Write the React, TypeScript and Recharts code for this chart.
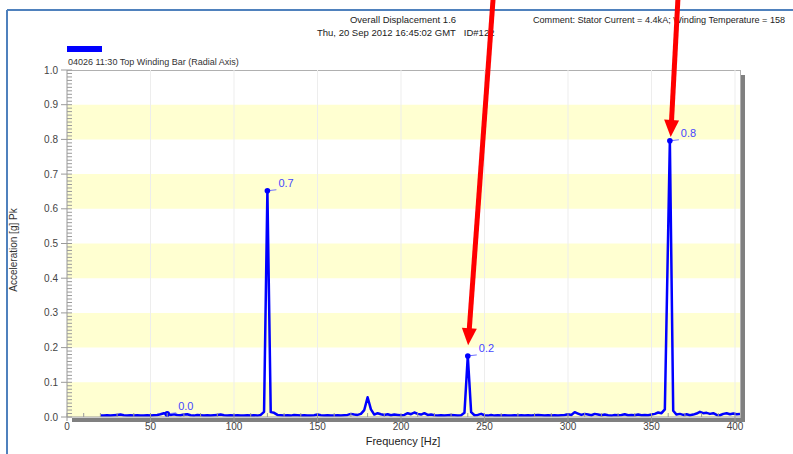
import React from "react";
import {
  LineChart,
  Line,
  XAxis,
  YAxis,
  ReferenceArea,
  ReferenceLine,
} from "recharts";

// spectrum samples (Hz)
const FREQ = [
  20, 22, 24, 26, 28, 30, 32, 34, 36, 38,
  40, 42, 44, 46, 48, 50, 52, 54, 56, 58,
  60, 62, 64, 66, 68, 70, 72, 74, 76, 78,
  80, 82, 84, 86, 88, 90, 92, 94, 96, 98,
  100, 102, 104, 106, 108, 110, 112, 114, 116, 118,
  120, 122, 124, 126, 128, 130, 132, 134, 136, 138,
  140, 142, 144, 146, 148, 150, 152, 154, 156, 158,
  160, 162, 164, 166, 168, 170, 172, 174, 176, 178,
  180, 182, 184, 186, 188, 190, 192, 194, 196, 198,
  200, 202, 204, 206, 208, 210, 212, 214, 216, 218,
  220, 222, 224, 226, 228, 230, 232, 234, 236, 238,
  240, 242, 244, 246, 248, 250, 252, 254, 256, 258,
  260, 262, 264, 266, 268, 270, 272, 274, 276, 278,
  280, 282, 284, 286, 288, 290, 292, 294, 296, 298,
  300, 302, 304, 306, 308, 310, 312, 314, 316, 318,
  320, 322, 324, 326, 328, 330, 332, 334, 336, 338,
  340, 342, 344, 346, 348, 350, 352, 354, 356, 358,
  361, 363, 365, 367, 369, 371, 373, 375, 377, 379,
  381, 383, 385, 387, 389, 391, 393, 395, 397, 399, 401, 403,
];

// acceleration [g] Pk
const ACCEL = [
  0.004, 0.004, 0.005, 0.004, 0.005, 0.006, 0.007, 0.005, 0.004, 0.005,
  0.004, 0.005, 0.004, 0.004, 0.005, 0.004, 0.005, 0.006, 0.008, 0.011,
  0.009, 0.006, 0.008, 0.006, 0.005, 0.007, 0.008, 0.005, 0.004, 0.006,
  0.005, 0.004, 0.005, 0.004, 0.005, 0.006, 0.007, 0.005, 0.004, 0.005,
  0.004, 0.005, 0.004, 0.004, 0.005, 0.004, 0.005, 0.004, 0.006, 0.015,
  0.652, 0.014, 0.012, 0.006, 0.005, 0.004, 0.005, 0.004, 0.006, 0.005,
  0.004, 0.005, 0.004, 0.004, 0.005, 0.007, 0.005, 0.004, 0.005, 0.004,
  0.004, 0.005, 0.004, 0.005, 0.006, 0.009, 0.007, 0.006, 0.009, 0.02,
  0.057, 0.022, 0.007, 0.011, 0.008, 0.006, 0.008, 0.005, 0.007, 0.006,
  0.005, 0.006, 0.011, 0.008, 0.013, 0.009, 0.007, 0.011, 0.006, 0.007,
  0.005, 0.004, 0.005, 0.004, 0.005, 0.006, 0.005, 0.004, 0.005, 0.012,
  0.176, 0.014, 0.005, 0.006, 0.009, 0.005, 0.004, 0.006, 0.004, 0.005,
  0.004, 0.005, 0.004, 0.004, 0.005, 0.004, 0.005, 0.004, 0.005, 0.004,
  0.005, 0.006, 0.005, 0.004, 0.005, 0.004, 0.005, 0.004, 0.005, 0.006,
  0.008, 0.006, 0.014, 0.01, 0.006, 0.009, 0.007, 0.005, 0.009, 0.007,
  0.005, 0.007, 0.005, 0.004, 0.006, 0.005, 0.006, 0.008, 0.005, 0.006,
  0.005, 0.007, 0.005, 0.006, 0.005, 0.007, 0.009, 0.013, 0.011, 0.022,
  0.796, 0.018, 0.007, 0.009, 0.006, 0.008, 0.005, 0.007, 0.01, 0.015,
  0.011, 0.012, 0.009, 0.011, 0.006, 0.005, 0.009, 0.011, 0.008, 0.01, 0.008, 0.009,
];

const LABELED_FREQ = [60, 120, 240, 361];

const X_TICKS = [0, 50, 100, 150, 200, 250, 300, 350, 400];
const Y_TICKS = [0, 0.1, 0.2, 0.3, 0.4, 0.5, 0.6, 0.7, 0.8, 0.9, 1.0];
// minor tick marks: every 10 Hz and every 0.01 g
const X_MINOR = Array.from({ length: 41 }, (_, i) => i * 10);
const Y_MINOR = Array.from({ length: 101 }, (_, i) => i / 100);

const BANDS = [
  [0, 0.1],
  [0.2, 0.3],
  [0.4, 0.5],
  [0.6, 0.7],
  [0.8, 0.9],
];

// red annotation arrows, in data units (tail above the plot, tip at the peak)
const ARROWS = [
  { from: [255.1, 1.202], to: [240.2, 0.207] },
  { from: [365.8, 1.202], to: [361.5, 0.807] },
];

const data = FREQ.map((f, i) => ({ freq: f, accel: ACCEL[i] }));

const FONT = '"Liberation Sans", Arial, sans-serif';
const AXIS_GREY = "#9A9A9A";

function Arrow(props: any) {
  const { x1, y1, x2, y2 } = props;
  const dx = x2 - x1;
  const dy = y2 - y1;
  const len = Math.hypot(dx, dy);
  const ux = dx / len;
  const uy = dy / len;
  const head = 17;
  const half = 7.5;
  const bx = x2 - ux * head;
  const by = y2 - uy * head;
  return (
    <g>
      <line x1={x1} y1={y1} x2={bx + ux * 2} y2={by + uy * 2} stroke="#FF0000" strokeWidth={5} />
      <polygon
        points={`${x2},${y2} ${bx - uy * half},${by + ux * half} ${bx + uy * half},${by - ux * half}`}
        fill="#FF0000"
      />
    </g>
  );
}

const renderDot = (props: any) => {
  const { cx, cy, payload, index } = props;
  if (!LABELED_FREQ.includes(payload.freq)) return <g key={`d${index}`} />;
  return (
    <g key={`d${index}`}>
      <line x1={cx} y1={cy} x2={cx + 9} y2={cy - 1} stroke="#7070FF" strokeWidth={1} />
      <circle cx={cx} cy={cy} r={2.8} fill="#0000FF" />
      <text x={cx + 11} y={cy - 4} fontSize={11} fill="#4646FF" fontFamily={FONT}>
        {payload.accel.toFixed(1)}
      </text>
    </g>
  );
};

// y ticks: major ones point outward with a label, all of them have a short inward mark
const YTick = (props: any) => {
  const { x, y, payload } = props;
  const v = payload.value;
  const ax = x + 9; // tickSize 6 + tickMargin 3
  const major = Math.abs(v * 10 - Math.round(v * 10)) < 1e-6;
  return (
    <g>
      <line x1={major ? ax - 6 : ax} y1={y} x2={ax + 5} y2={y} stroke={AXIS_GREY} strokeWidth={1} />
      {major && (
        <text x={x} y={y} dy="0.35em" textAnchor="end" fontSize={10} fill="#444" fontFamily={FONT}>
          {v.toFixed(1)}
        </text>
      )}
    </g>
  );
};

const XTick = (props: any) => {
  const { x, y, payload } = props;
  const v = payload.value;
  const ay = y - 6; // tickSize 4 + tickMargin 2
  const major = v % 50 === 0;
  return (
    <g>
      <line x1={x} y1={ay - 4} x2={x} y2={major ? ay + 4 : ay} stroke={AXIS_GREY} strokeWidth={1} />
      {major && (
        <text x={x} y={y} dy="0.71em" textAnchor="middle" fontSize={10} fill="#444" fontFamily={FONT}>
          {v}
        </text>
      )}
    </g>
  );
};

export default function App() {
  return (
    <div
      style={{
        position: "absolute",
        left: 0,
        top: 0,
        width: 793,
        height: 454,
        overflow: "hidden",
        background: "#fff",
        fontFamily: FONT,
      }}
    >
      <svg width={793} height={454} style={{ position: "absolute", left: 0, top: 0 }}>
        {/* slide frame */}
        <line x1={7} y1={10} x2={793} y2={10} stroke="#4F81BD" strokeWidth={2} />
        <line x1={7} y1={10} x2={7} y2={454} stroke="#4F81BD" strokeWidth={2} />
        <text x={403} y={23} fontSize={9.5} fill="#222" textAnchor="middle">
          Overall Displacement 1.6
        </text>
        <text x={317} y={36} fontSize={9.5} fill="#222">
          Thu, 20 Sep 2012 16:45:02 GMT{"\u00a0\u00a0\u00a0"}ID#122
        </text>
        <text x={533} y={23} fontSize={9.1} fill="#222">
          Comment: Stator Current = 4.4kA; Winding Temperature = 158
        </text>
        {/* legend */}
        <rect x={67} y={46} width={35} height={6} fill="#0000FF" />
        <text x={68} y={65} fontSize={9} fill="#333">
          04026 11:30 Top Winding Bar (Radial Axis)
        </text>
        <text
          x={0}
          y={0}
          fontSize={10}
          fill="#333"
          textAnchor="middle"
          transform="translate(17,250) rotate(-90)"
        >
          Acceleration [g] Pk
        </text>
        <text x={403} y={445} fontSize={11} fill="#222" textAnchor="middle">
          Frequency [Hz]
        </text>
        {/* plot frame and shadow */}
        <line x1={67} y1={70.5} x2={741} y2={70.5} stroke="#B0B0B0" strokeWidth={1} />
        <line x1={740.5} y1={70} x2={740.5} y2={418} stroke="#B0B0B0" strokeWidth={1} />
        <rect x={741} y={75} width={4} height={347} fill="#808080" />
        <rect x={72} y={418} width={673} height={4} fill="#808080" />
      </svg>
      <div style={{ position: "absolute", left: 0, top: 0 }}>
        <LineChart
          width={793}
          height={454}
          data={data}
          margin={{ top: 70, right: 53, left: 0, bottom: 0 }}
        >
          {BANDS.map(([a, b]) => (
            <ReferenceArea
              key={a}
              y1={a}
              y2={b}
              fill="#FFFF99"
              fillOpacity={0.45}
              stroke="none"
              ifOverflow="hidden"
            />
          ))}
          {X_TICKS.slice(1).map((t) => (
            <ReferenceLine key={`g${t}`} x={t} stroke="#EDEDED" strokeWidth={1} />
          ))}
          <XAxis
            dataKey="freq"
            type="number"
            domain={[0, 403]}
            allowDataOverflow
            ticks={X_MINOR}
            interval={0}
            height={37}
            tickSize={4}
            tickMargin={2}
            tickLine={false}
            stroke={AXIS_GREY}
            tick={XTick}
          />
          <YAxis
            type="number"
            domain={[0, 1]}
            allowDataOverflow
            ticks={Y_MINOR}
            interval={0}
            width={67}
            tickSize={6}
            tickMargin={3}
            tickLine={false}
            stroke={AXIS_GREY}
            tick={YTick}
          />
          <Line
            dataKey="accel"
            stroke="#0000FF"
            strokeWidth={2.5}
            strokeLinejoin="round"
            dot={renderDot}
            activeDot={false}
            isAnimationActive={false}
          />
          {ARROWS.map((a, i) => (
            <ReferenceLine
              key={i}
              segment={[
                { x: a.from[0], y: a.from[1] },
                { x: a.to[0], y: a.to[1] },
              ]}
              ifOverflow="visible"
              shape={Arrow}
            />
          ))}
        </LineChart>
      </div>
    </div>
  );
}
